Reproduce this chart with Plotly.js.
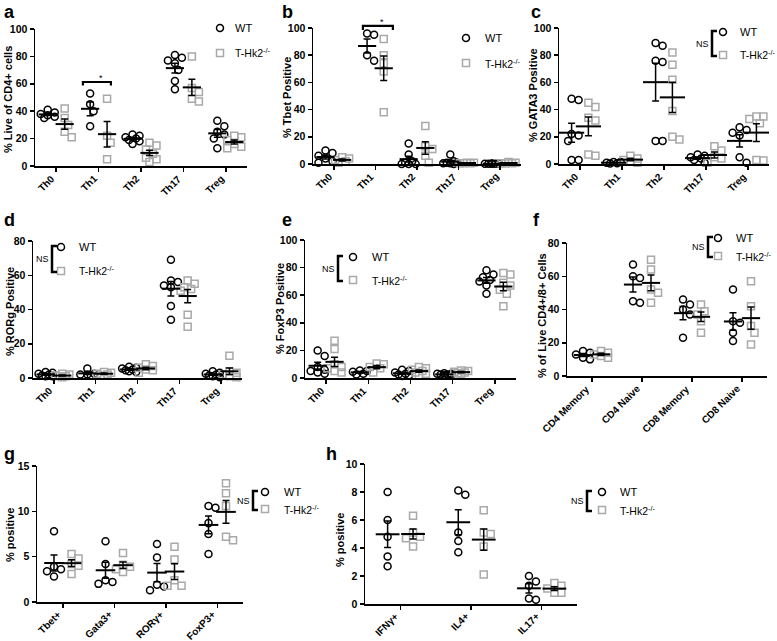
<!DOCTYPE html>
<html>
<head>
<meta charset="utf-8">
<script src="https://cdn.plot.ly/plotly-3.0.1.min.js"></script>
<style>
  body { margin: 0; background: #fff; }
  #chart { width: 777px; height: 641px; }
</style>
</head>
<body>
<div id="chart"></div>
<script>
const W = 777, H = 641;
const FONT = 'Liberation Sans, Arial, sans-serif';
const GREY = '#a9a9a9';

// values, one inner list per category
const cellTypes = ['Th0', 'Th1', 'Th2', 'Th17', 'Treg'];

const liveWT = [[41, 39, 38, 37, 36, 35], [53, 45, 40, 29], [23, 22, 21, 20, 19, 18, 16], [81, 79, 77, 75, 70, 62, 56], [33, 29, 25, 23, 20, 13]];
const liveKO = [[42, 35, 30, 25, 21], [49, 22, 17, 5], [17, 15, 12, 9, 6, 5, 3], [80, 57, 54, 49, 47], [22, 21, 19, 16, 14, 13]];

const tbetWT = [[10, 8, 6, 4, 2, 1], [96, 95, 80, 76], [15, 7, 2, 1, 0, 0, 0], [7, 2, 1, 1, 0.5, 0.5, 0], [0.4, 0.3, 0.2, 0.2, 0.1, 0.1]];
const tbetKO = [[5, 4, 3, 2, 1], [92, 80, 74, 68, 38], [28, 13, 11, 6, 1], [1, 1, 0.5, 0.5, 0.5], [1.5, 1, 0.5, 0.5, 0.3]];

const gata3WT = [[48, 47, 22, 21, 17, 3, 3], [1.5, 1.5, 1, 0.5, 0.3], [89, 87, 76, 75, 17, 17], [7, 6, 5, 4, 3, 1], [27, 25, 23, 21, 5, 1]];
const gata3KO = [[45, 42, 34, 32, 7, 6], [6, 4, 3, 2, 1], [82, 73, 62, 39, 20, 18], [13, 10, 5, 4, 1], [35, 35, 33, 30, 3, 2.5]];

const rorgWT = [[3.5, 3, 2.5, 2, 1.5, 1, 1], [5.5, 2.5, 2, 2, 1.5], [6.5, 6, 5.5, 5, 4.5, 4, 3.5], [69, 57, 56, 54, 53, 42, 34], [4, 3, 2.5, 2, 1.5, 1, 0.5]];
const rorgKO = [[2.5, 2, 1.5, 1, 1, 0.5], [3.5, 3, 2.5, 2, 1.5], [8, 7, 6, 5, 4.5, 3], [57, 55, 53, 52, 51, 37, 30], [13, 4, 3, 2, 1, 0.5]];

const foxp3WT = [[20, 16, 8, 6, 5, 4, 3], [5.5, 5, 4.5, 3, 2.5], [6, 5, 4, 3, 2.5, 2, 1.5], [3.5, 3, 3, 2.5, 2.5, 2, 2], [78, 75, 73, 71, 70, 67, 61]];
const foxp3KO = [[27, 21, 10, 8, 7, 5, 4], [10.5, 10, 8, 7, 4], [8, 7, 6, 5, 4, 3, 2], [5.5, 5, 4.5, 4, 3.5, 3], [76, 75, 69, 67, 64, 61, 52]];

const subsetCats = ['CD4 Memory', 'CD4 Naive', 'CD8 Memory', 'CD8 Naive'];
const subsetWT = [[15, 14, 13, 11, 10], [67, 60, 59, 45, 44], [46, 43, 40, 37, 23], [52, 33, 32, 26, 21]];
const subsetKO = [[15, 14, 13, 12, 11], [70, 64, 52, 50, 44], [43, 39, 37, 33, 26], [57, 42, 30, 26, 19]];

const tfCats = ['Tbet+', 'Gata3+', 'RORγ+', 'FoxP3+'];
const tfWT = [[7.8, 3.9, 3.6, 3.4, 2.8], [6.7, 4.2, 2.4, 2.2, 2.0], [6.4, 4.9, 1.9, 1.7, 1.3], [10.6, 10.4, 8.7, 7.5, 5.3]];
const tfKO = [[5.3, 4.8, 4.2, 4.0, 3.1], [5.4, 4.1, 3.9, 3.6, 3.3], [6.1, 4.7, 2.4, 1.8, 1.8], [13.1, 12.0, 10.6, 7.2, 6.8]];

const cytoCats = ['IFNγ+', 'IL4+', 'IL17+'];
const cytoWT = [[8.0, 6.0, 4.8, 3.4, 2.7], [8.1, 7.8, 5.1, 4.5, 3.7], [2.0, 1.6, 1.3, 0.4, 0.3]];
const cytoKO = [[6.3, 5.1, 4.8, 4.7, 4.1], [6.7, 5.1, 5.0, 4.1, 2.1], [1.5, 1.3, 1.1, 0.8, 0.8]];

// box = plot area in pixels [left, right, top, bottom]; lx/ly = top-left of the panel letter
const panels = [
  { letter: 'a', cats: cellTypes, wt: liveWT, ko: liveKO, ymax: 100, dtick: 20, box: [35, 247, 29, 166],
    title: '% Live of CD4+ cells', tx: 8, ty: 100, lx: 2, ly: 0, off: 0.2, mean: 13,
    leg: { cx: 220, c1: 28, c2: 53, tx: 233 } },
  { letter: 'b', cats: cellTypes, wt: tbetWT, ko: tbetKO, ymax: 100, dtick: 20, box: [313, 521, 28, 164],
    title: '% Tbet Positive', tx: 287, ty: 98, lx: 280, ly: 0, off: 0.2, mean: 13,
    leg: { cx: 466, c1: 38, c2: 63, tx: 483 } },
  { letter: 'c', cats: cellTypes, wt: gata3WT, ko: gata3KO, ymax: 100, dtick: 20, box: [559, 769, 28, 164],
    title: '% GATA3 Positive', tx: 533, ty: 95, lx: 529, ly: 0, off: 0.2, mean: 18,
    leg: { cx: 723, c1: 32, c2: 55, tx: 738, ns: 712 } },
  { letter: 'd', cats: cellTypes, wt: rorgWT, ko: rorgKO, ymax: 80, dtick: 20, box: [33, 242, 241, 378],
    title: '% RORg Positive', tx: 10, ty: 312, lx: 2, ly: 208, off: 0.2, mean: 13,
    leg: { cx: 61, c1: 247, c2: 271, tx: 77, ns: 52 } },
  { letter: 'e', cats: cellTypes, wt: foxp3WT, ko: foxp3KO, ymax: 100, dtick: 20, box: [305, 516, 240, 378],
    title: '% FoxP3 Positive', tx: 280, ty: 309, lx: 280, ly: 208, off: 0.2, mean: 13,
    leg: { cx: 353, c1: 257, c2: 280, tx: 370, ns: 338 } },
  { letter: 'f', cats: subsetCats, wt: subsetWT, ko: subsetKO, ymax: 80, dtick: 20, box: [567, 767, 243, 376],
    title: '% of Live CD4+/8+ Cells', tx: 542, ty: 316, lx: 531, ly: 208, off: 0.18, mean: 13,
    leg: { cx: 718, c1: 238, c2: 256, tx: 734, ns: 708 } },
  { letter: 'g', cats: tfCats, wt: tfWT, ko: tfKO, ymax: 15, dtick: 5, box: [37, 243, 466, 602],
    title: '% positive', tx: 10, ty: 535, lx: 2, ly: 442, off: 0.17, mean: 14,
    leg: { cx: 265, c1: 492, c2: 509, tx: 282, ns: 253 } },
  { letter: 'h', cats: cytoCats, wt: cytoWT, ko: cytoKO, ymax: 10, dtick: 2, box: [365, 577, 464, 604],
    title: '% positive', tx: 340, ty: 540, lx: 324, ly: 442, off: 0.18, mean: 17,
    leg: { cx: 602, c1: 492, c2: 510, tx: 618, ns: 587 } }
];

const px = x => x / W;
const py = y => 1 - y / H;

function meanOf(v) { return v.reduce((s, x) => s + x, 0) / v.length; }
function semOf(v) {
  const m = meanOf(v);
  const ss = v.reduce((s, x) => s + (x - m) * (x - m), 0);
  return Math.sqrt(ss / (v.length - 1)) / Math.sqrt(v.length);
}

// simple beeswarm: push overlapping points sideways, returns offsets in category units
function spread(values, yPx, catPx, dia) {
  const placed = [];
  const offs = new Array(values.length).fill(0);
  const order = values.map((v, i) => i).sort((a, b) => values[b] - values[a]);
  const steps = [0, 1, -1, 2, -2];
  const step = dia * 0.5;
  order.forEach(i => {
    const y = values[i] * yPx;
    let best = 0, bestD = -1;
    for (const s of steps) {
      const x = s * step;
      let d = Infinity;
      placed.forEach(p => { d = Math.min(d, Math.hypot(p.x - x, p.y - y)); });
      if (d >= dia) { best = x; break; }
      if (d > bestD) { bestD = d; best = x; }
    }
    placed.push({ x: best, y: y });
    offs[i] = best / catPx;
  });
  return offs;
}

const traces = [];
const layout = {
  width: W, height: H,
  margin: { l: 0, r: 0, t: 0, b: 0 },
  paper_bgcolor: '#fff', plot_bgcolor: 'rgba(0,0,0,0)',
  showlegend: false,
  font: { family: FONT, color: '#000' },
  annotations: [], shapes: []
};

panels.forEach((p, k) => {
  const n = p.cats.length;
  const sfx = k === 0 ? '' : String(k + 1);
  const xa = 'x' + sfx, ya = 'y' + sfx;
  const [l, r, t, b] = p.box;
  const yPx = (b - t) / p.ymax;
  const catPx = (r - l) / n;
  p.xa = xa; p.ya = ya;

  layout['xaxis' + sfx] = {
    domain: [px(l), px(r)], anchor: ya, range: [-0.5, n - 0.5],
    tickmode: 'array', tickvals: p.cats.map((c, i) => i), showticklabels: false,
    showline: true, linecolor: '#000', linewidth: 1.5,
    ticks: 'outside', ticklen: 4, tickwidth: 1.5, tickcolor: '#000',
    showgrid: false, zeroline: false, fixedrange: true
  };
  layout['yaxis' + sfx] = {
    domain: [py(b), py(t)], anchor: xa, range: [0, p.ymax], dtick: p.dtick,
    showline: true, linecolor: '#000', linewidth: 1.5,
    ticks: 'outside', ticklen: 4, tickwidth: 1.5, tickcolor: '#000',
    showgrid: false, zeroline: false, fixedrange: true,
    tickfont: { family: FONT, size: 10.5, weight: 'bold', color: '#000' }
  };

  // slanted category labels under each tick
  p.cats.forEach((c, i) => {
    layout.annotations.push({
      text: c, xref: xa, yref: ya + ' domain', x: i, y: 0,
      xanchor: 'right', yanchor: 'top', textangle: -45, showarrow: false,
      xshift: 3, yshift: -4,
      font: { family: FONT, size: 10, weight: 'bold', color: '#000' }
    });
  });

  const groups = [
    { vals: p.wt, shift: -p.off, symbol: 'circle-open', color: '#000' },
    { vals: p.ko, shift: p.off, symbol: 'square-open', color: GREY }
  ];

  groups.forEach(g => {
    const xs = [], ys = [];
    g.vals.forEach((v, i) => {
      const offs = spread(v, yPx, catPx, 7);
      v.forEach((y, j) => { xs.push(i + g.shift + offs[j]); ys.push(y); });
    });
    traces.push({
      type: 'scatter', mode: 'markers', x: xs, y: ys, xaxis: xa, yaxis: ya,
      cliponaxis: false, hoverinfo: 'y',
      marker: { symbol: g.symbol, size: 7, color: g.color, line: { color: g.color, width: 1.5 } }
    });
  });

  groups.forEach(g => {
    traces.push({
      type: 'scatter', mode: 'markers', xaxis: xa, yaxis: ya, cliponaxis: false,
      x: g.vals.map((v, i) => i + g.shift),
      y: g.vals.map(meanOf),
      error_y: { type: 'data', array: g.vals.map(semOf), color: '#000', thickness: 1.5, width: 3.5 },
      marker: { symbol: 'line-ew-open', size: p.mean, color: '#000', line: { color: '#000', width: 2 } },
      hoverinfo: 'y'
    });
  });

  // panel letter and y title
  layout.annotations.push({
    text: p.letter, xref: 'paper', yref: 'paper', x: px(p.lx), y: py(p.ly),
    xanchor: 'left', yanchor: 'top', showarrow: false,
    font: { family: FONT, size: 18, weight: 'bold', color: '#000' }
  });
  layout.annotations.push({
    text: p.title, xref: 'paper', yref: 'paper', x: px(p.tx), y: py(p.ty),
    xanchor: 'center', yanchor: 'middle', textangle: -90, showarrow: false,
    font: { family: FONT, size: 11, weight: 'bold', color: '#000' }
  });

  // legend: symbols as shapes, labels as text
  const L = p.leg, rr = 3.5;
  layout.shapes.push({
    type: 'circle', xref: 'paper', yref: 'paper',
    x0: px(L.cx - rr), x1: px(L.cx + rr), y0: py(L.c1 + rr), y1: py(L.c1 - rr),
    line: { color: '#000', width: 1.5 }
  });
  layout.shapes.push({
    type: 'rect', xref: 'paper', yref: 'paper',
    x0: px(L.cx - rr), x1: px(L.cx + rr), y0: py(L.c2 + rr), y1: py(L.c2 - rr),
    line: { color: GREY, width: 1.5 }
  });
  layout.annotations.push({
    text: 'WT', xref: 'paper', yref: 'paper', x: px(L.tx), y: py(L.c1),
    xanchor: 'left', yanchor: 'middle', showarrow: false,
    font: { family: FONT, size: 11, color: '#000' }
  });
  layout.annotations.push({
    text: 'T-Hk2<sup>-/-</sup>', xref: 'paper', yref: 'paper', x: px(L.tx), y: py(L.c2),
    xanchor: 'left', yanchor: 'middle', showarrow: false,
    font: { family: FONT, size: 10.5, color: '#000' }
  });
  if (L.ns) {
    const y1 = L.c1 - 1, y2 = L.c2 + 1;
    layout.shapes.push({
      type: 'path', xref: 'paper', yref: 'paper',
      path: `M ${px(L.ns + 5)},${py(y1)} L ${px(L.ns)},${py(y1)} L ${px(L.ns)},${py(y2)} L ${px(L.ns + 5)},${py(y2)}`,
      line: { color: '#000', width: 2.5 }
    });
    layout.annotations.push({
      text: 'NS', xref: 'paper', yref: 'paper', x: px(L.ns - 1), y: py((L.c1 + L.c2) / 2),
      xanchor: 'right', yanchor: 'middle', showarrow: false,
      font: { family: FONT, size: 9, color: '#000' }
    });
  }
});

// significance brackets over Th1 in a and b, placed in axis-domain units so they are not clipped
const sig = [
  { panel: 0, x0: 0.63, x1: 1.29, y: 61.3, drop: 2.5 },
  { panel: 1, x0: 0.70, x1: 1.42, y: 101.5, drop: 3 }
];
sig.forEach(s => {
  const p = panels[s.panel], n = p.cats.length;
  const dx = v => (v + 0.5) / n, dy = v => v / p.ymax;
  const xr = p.xa + ' domain', yr = p.ya + ' domain';
  layout.shapes.push({
    type: 'path', xref: xr, yref: yr,
    path: `M ${dx(s.x0)},${dy(s.y - s.drop)} L ${dx(s.x0)},${dy(s.y)} L ${dx(s.x1)},${dy(s.y)} L ${dx(s.x1)},${dy(s.y - s.drop)}`,
    line: { color: '#000', width: 2.2 }
  });
  layout.annotations.push({
    text: '*', xref: xr, yref: yr, x: dx((s.x0 + s.x1) / 2), y: dy(s.y),
    yanchor: 'bottom', showarrow: false, yshift: -3,
    font: { family: FONT, size: 9, color: '#000' }
  });
});

Plotly.newPlot('chart', traces, layout, { displayModeBar: false, staticPlot: true });
</script>
</body>
</html>
